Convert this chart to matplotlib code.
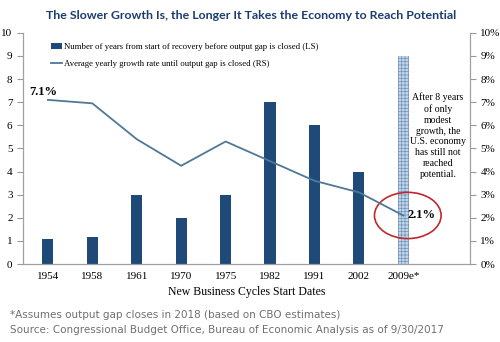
import matplotlib.pyplot as plt
from matplotlib.patches import Ellipse
import numpy as np

# Business cycle data
cycles = ["1954", "1958", "1961", "1970", "1975", "1982", "1991", "2002", "2009e*"]
years_to_close = [1.1, 1.15, 3, 2, 3, 7, 6, 4, 9]
avg_growth = [7.1, 6.95, 5.4, 4.25, 5.3, 4.45, 3.6, 3.1, 2.1]

navy = "#1f4a78"
line_blue = "#4f7898"
serif = "Liberation Serif"
plt.rcParams["hatch.linewidth"] = 0.5

fig = plt.figure(figsize=(5, 3.42), dpi=100)
ax = fig.add_axes([0.046, 0.228, 0.894, 0.676])
x = np.arange(len(cycles))

bars = ax.bar(x[:-1], years_to_close[:-1], width=0.25, color=navy,
              label="Number of years from start of recovery before output gap is closed (LS)")
ax.bar(x[-1], years_to_close[-1], width=0.25, facecolor="#c4d5e8",
       edgecolor="#6d93bd", hatch="+++++", linewidth=0)

ax.set_xlim(-0.56, 9.5)
ax.set_ylim(0, 10)
ax.set_yticks(range(0, 11))
ax.set_xticks(x)
ax.set_xticklabels(cycles, fontfamily=serif, fontsize=8)
ax.tick_params(axis="y", labelsize=8, length=4, color="#999999")
ax.tick_params(axis="x", length=0, pad=6)
for lbl in ax.get_yticklabels():
    lbl.set_fontfamily(serif)
ax.set_xlabel("New Business Cycles Start Dates", fontfamily=serif, fontsize=8.5,
              labelpad=3)

ax2 = ax.twinx()
line, = ax2.plot(x, avg_growth, color=line_blue, linewidth=1.3,
                 label="Average yearly growth rate until output gap is closed (RS)")
ax2.set_ylim(0, 10)
ax2.set_yticks(range(0, 11))
ax2.set_yticklabels([f"{v}%" for v in range(0, 11)], fontfamily=serif, fontsize=8)
ax2.tick_params(axis="y", length=4, color="#999999")

for a in (ax, ax2):
    a.spines["top"].set_visible(False)
    for s in ("left", "right", "bottom"):
        a.spines[s].set_color("#a0a0a0")
        a.spines[s].set_linewidth(0.8)

ax2.text(x[0] - 0.1, avg_growth[0] + 0.1, "7.1%", fontfamily=serif,
         fontweight="bold", fontsize=9, ha="center", va="bottom")
ax2.text(x[-1] + 0.1, avg_growth[-1], "2.1%", fontfamily=serif,
         fontweight="bold", fontsize=9, ha="left", va="center")
ax2.add_patch(Ellipse((x[-1] + 0.1, avg_growth[-1]), 1.5, 2.0, fill=False,
                      edgecolor="#c0282d", linewidth=1.2))

ax2.text(8.78, 5.55, "After 8 years\nof only\nmodest\ngrowth, the\nU.S. economy\nhas still not\nreached\npotential.",
         fontfamily=serif, fontsize=7, ha="center", va="center", linespacing=1.25)

ax.legend(handles=[bars, line], loc="upper left", bbox_to_anchor=(0.045, 0.99),
          frameon=False, prop={"family": serif, "size": 6.3}, handlelength=1.3,
          handletextpad=0.2, labelspacing=0.95)

fig.text(0.502, 0.955, "The Slower Growth Is, the Longer It Takes the Economy to Reach Potential",
         ha="center", va="center", fontsize=8.9, fontweight="bold", color="#1b3d6e",
         fontfamily="Lato")
fig.text(0.02, 0.078, "*Assumes output gap closes in 2018 (based on CBO estimates)",
         fontsize=7.5, color="#707070", fontfamily="DejaVu Sans", va="center")
fig.text(0.02, 0.034, "Source: Congressional Budget Office, Bureau of Economic Analysis as of 9/30/2017",
         fontsize=7.5, color="#707070", fontfamily="DejaVu Sans", va="center")

fig.savefig("out.png", dpi=100)
